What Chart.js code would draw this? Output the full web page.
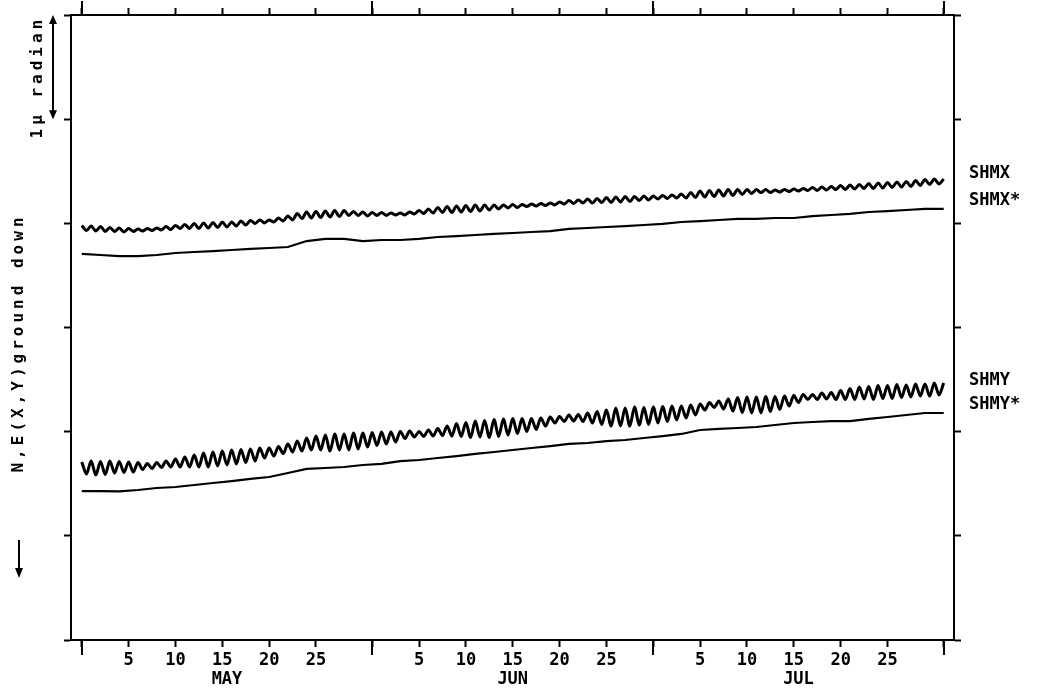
<!DOCTYPE html>
<html>
<head>
<meta charset="utf-8">
<script src="https://cdn.jsdelivr.net/npm/chart.js@4.4.1/dist/chart.umd.min.js"></script>
<style>
  html, body { margin: 0; background: #fff; }
  #wrap { width: 1038px; height: 693px; }
</style>
</head>
<body>
<div id="wrap"><canvas id="chart" width="1038" height="693"></canvas></div>
<script>
// time axis in days counted from the start of May
const MONTHS = ['MAY', 'JUN', 'JUL'];
const MONTH_STARTS = [0, 31, 61, 92];
const DAY_LABELS = [5, 10, 15, 20, 25];

// tilt in microradian, ground down positive (plotted downwards)
// smooth (corrected) curves, one value every 2 days
const SMOOTH_STEP = 2;
const shmxStar = [
  2.294, 2.304, 2.314, 2.314, 2.304, 2.285, 2.275, 2.266, 2.256, 2.246,
  2.237, 2.227, 2.170, 2.150, 2.150, 2.170, 2.160, 2.160, 2.150, 2.131,
  2.122, 2.112, 2.102, 2.093, 2.083, 2.074, 2.054, 2.045, 2.035, 2.026,
  2.016, 2.006, 1.987, 1.978, 1.968, 1.958, 1.958, 1.949, 1.949, 1.930,
  1.920, 1.910, 1.891, 1.882, 1.872, 1.862, 1.862
];
const shmyStar = [
  4.570, 4.570, 4.574, 4.560, 4.541, 4.531, 4.512, 4.493, 4.474, 4.454,
  4.435, 4.397, 4.358, 4.349, 4.339, 4.320, 4.310, 4.282, 4.272, 4.253,
  4.234, 4.214, 4.195, 4.176, 4.157, 4.138, 4.118, 4.109, 4.090, 4.080,
  4.061, 4.042, 4.022, 3.984, 3.974, 3.965, 3.955, 3.936, 3.917, 3.907,
  3.898, 3.898, 3.878, 3.859, 3.840, 3.821, 3.821
];

// raw curves, daily high / low read half a day apart
const RAW_STEP = 0.5;
const shmx = [
  2.021, 2.069, 2.026, 2.074, 2.030, 2.078, 2.040, 2.078, 2.045, 2.083,
  2.050, 2.078, 2.054, 2.074, 2.049, 2.069, 2.044, 2.064, 2.031, 2.059,
  2.021, 2.049, 2.011, 2.049, 2.002, 2.050, 1.997, 2.045, 1.992, 2.040,
  1.987, 2.035, 1.987, 2.025, 1.978, 2.016, 1.973, 2.001, 1.968, 1.996,
  1.968, 1.988, 1.949, 1.977, 1.930, 1.968, 1.906, 1.954, 1.891, 1.949,
  1.886, 1.944, 1.881, 1.939, 1.877, 1.935, 1.877, 1.925, 1.887, 1.925,
  1.891, 1.929, 1.896, 1.924, 1.896, 1.924, 1.900, 1.920, 1.900, 1.920,
  1.891, 1.911, 1.877, 1.905, 1.863, 1.901, 1.848, 1.896, 1.838, 1.896,
  1.833, 1.891, 1.829, 1.887, 1.824, 1.882, 1.824, 1.872, 1.824, 1.862,
  1.824, 1.852, 1.820, 1.848, 1.819, 1.839, 1.814, 1.834, 1.809, 1.829,
  1.804, 1.824, 1.795, 1.815, 1.781, 1.809, 1.776, 1.804, 1.767, 1.805,
  1.762, 1.800, 1.752, 1.800, 1.747, 1.795, 1.742, 1.790, 1.743, 1.781,
  1.738, 1.776, 1.738, 1.766, 1.733, 1.761, 1.728, 1.756, 1.719, 1.757,
  1.704, 1.752, 1.689, 1.747, 1.685, 1.743, 1.680, 1.738, 1.675, 1.733,
  1.675, 1.723, 1.675, 1.713, 1.676, 1.704, 1.676, 1.704, 1.680, 1.700,
  1.675, 1.695, 1.670, 1.690, 1.665, 1.685, 1.656, 1.684, 1.652, 1.680,
  1.647, 1.675, 1.637, 1.675, 1.632, 1.670, 1.627, 1.665, 1.618, 1.666,
  1.613, 1.661, 1.608, 1.656, 1.603, 1.651, 1.598, 1.646, 1.589, 1.637,
  1.579, 1.627, 1.574, 1.622, 1.575
];
const shmy = [
  4.291, 4.406, 4.282, 4.416, 4.286, 4.411, 4.282, 4.397, 4.286, 4.392,
  4.291, 4.387, 4.296, 4.363, 4.306, 4.354, 4.296, 4.344, 4.282, 4.339,
  4.262, 4.339, 4.243, 4.339, 4.224, 4.339, 4.205, 4.339, 4.195, 4.330,
  4.186, 4.320, 4.176, 4.310, 4.171, 4.296, 4.166, 4.282, 4.157, 4.253,
  4.157, 4.234, 4.142, 4.210, 4.118, 4.195, 4.090, 4.186, 4.061, 4.176,
  4.042, 4.176, 4.032, 4.186, 4.022, 4.176, 4.022, 4.176, 4.013, 4.166,
  4.013, 4.147, 4.008, 4.133, 4.003, 4.118, 4.003, 4.099, 3.998, 4.066,
  3.994, 4.051, 3.998, 4.046, 3.984, 4.042, 3.970, 4.037, 3.946, 4.042,
  3.922, 4.046, 3.912, 4.056, 3.898, 4.051, 3.893, 4.056, 3.883, 4.046,
  3.878, 4.032, 3.874, 4.018, 3.874, 3.998, 3.874, 3.979, 3.869, 3.946,
  3.859, 3.917, 3.854, 3.902, 3.840, 3.898, 3.835, 3.902, 3.821, 3.917,
  3.806, 3.931, 3.792, 3.946, 3.773, 3.946, 3.773, 3.946, 3.763, 3.936,
  3.768, 3.931, 3.763, 3.917, 3.758, 3.902, 3.754, 3.888, 3.754, 3.869,
  3.744, 3.840, 3.734, 3.792, 3.720, 3.768, 3.706, 3.782, 3.686, 3.802,
  3.672, 3.816, 3.667, 3.821, 3.667, 3.821, 3.662, 3.806, 3.662, 3.787,
  3.658, 3.754, 3.653, 3.720, 3.643, 3.691, 3.643, 3.691, 3.629, 3.686,
  3.624, 3.691, 3.605, 3.691, 3.586, 3.691, 3.571, 3.686, 3.566, 3.691,
  3.557, 3.682, 3.557, 3.682, 3.547, 3.672, 3.552, 3.667, 3.542, 3.658,
  3.542, 3.658, 3.533, 3.648, 3.533
];

const X_MIN = -1.15, X_MAX = 93.1;
const BLACK = '#000';
const FONT = { family: "'DejaVu Sans Mono', monospace", size: 17, weight: 'bold' };

const toPoints = (vals, step) => vals.map((v, i) => ({ x: i * step, y: v }));

// bottom / top tick positions: month starts plus 5,10,...,25 of each month
const dayTicks = [];
MONTH_STARTS.forEach((s, i) => {
  dayTicks.push(s);
  if (i < MONTHS.length) DAY_LABELS.forEach(d => dayTicks.push(s + d));
});
const monthMids = MONTHS.map((m, i) => (MONTH_STARTS[i] + MONTH_STARTS[i + 1]) / 2);

const dayLabel = (value) => {
  const s = MONTH_STARTS.filter(m => m <= value).pop();
  return value === s ? '' : String(value - s);
};

const frameGrid = { drawOnChartArea: false, drawTicks: true, tickLength: 7, tickWidth: 2, tickColor: BLACK };
const frameBorder = { display: true, color: BLACK, width: 2 };

const series = (label, data, width, tension) => ({
  label: label,
  data: data,
  borderColor: BLACK,
  borderWidth: width,
  pointRadius: 0,
  tension: tension,
  fill: false,
  xAxisID: 'x',
  yAxisID: 'y'
});

//draws month ticks, curve names, scale bar and the left labels
const decorations = {
  id: 'decorations',
  afterDraw(chart) {
    const { ctx, chartArea: a } = chart;
    const x = chart.scales.x, y = chart.scales.y;
    ctx.save();
    ctx.strokeStyle = BLACK;
    ctx.fillStyle = BLACK;
    ctx.lineWidth = 2;

    // longer ticks at the month boundaries
    MONTH_STARTS.forEach(s => {
      const px = Math.round(x.getPixelForValue(s));
      ctx.beginPath();
      ctx.moveTo(px, a.bottom); ctx.lineTo(px, a.bottom + 15);
      ctx.moveTo(px, a.top); ctx.lineTo(px, a.top - 14);
      ctx.stroke();
    });

    // curve names at the right edge
    ctx.font = 'bold 17px "DejaVu Sans Mono"';
    ctx.textBaseline = 'middle';
    ctx.textAlign = 'left';
    chart.data.datasets.forEach(ds => {
      const n = ds.data.length;
      const end = (ds.data[n - 1].y + ds.data[n - 2].y) / 2;
      ctx.fillText(ds.label, a.right + 15, y.getPixelForValue(end) - 8);
    });

    // 1 microradian scale bar
    const y0 = y.getPixelForValue(0), y1 = y.getPixelForValue(1);
    const bx = 53;
    ctx.beginPath();
    ctx.moveTo(bx, y0 + 2); ctx.lineTo(bx, y1 - 2);
    ctx.stroke();
    ctx.beginPath();
    ctx.moveTo(bx, y0); ctx.lineTo(bx - 4, y0 + 9); ctx.lineTo(bx + 4, y0 + 9); ctx.closePath();
    ctx.moveTo(bx, y1); ctx.lineTo(bx - 4, y1 - 9); ctx.lineTo(bx + 4, y1 - 9); ctx.closePath();
    ctx.fill();

    ctx.textAlign = 'center';
    ctx.font = 'bold 16px "DejaVu Sans Mono"';
    ctx.letterSpacing = '4px';
    ctx.save();
    ctx.translate(38, (y0 + y1) / 2 + 10);
    ctx.rotate(-Math.PI / 2);
    ctx.fillText('1µ radian', 0, 0);
    ctx.restore();

    ctx.save();
    ctx.translate(19, 343);
    ctx.rotate(-Math.PI / 2);
    ctx.fillText('N,E(X,Y)ground down', 0, 0);
    ctx.restore();

    // downward arrow
    ctx.beginPath();
    ctx.moveTo(19, 540); ctx.lineTo(19, 570);
    ctx.stroke();
    ctx.beginPath();
    ctx.moveTo(19, 578); ctx.lineTo(15, 568); ctx.lineTo(23, 568); ctx.closePath();
    ctx.fill();
    ctx.restore();
  }
};

new Chart(document.getElementById('chart'), {
  type: 'line',
  data: {
    datasets: [
      series('SHMX', toPoints(shmx, RAW_STEP), 3, 0.3),
      series('SHMX*', toPoints(shmxStar, SMOOTH_STEP), 2.2, 0),
      series('SHMY', toPoints(shmy, RAW_STEP), 3, 0.3),
      series('SHMY*', toPoints(shmyStar, SMOOTH_STEP), 2.2, 0)
    ]
  },
  options: {
    responsive: false,
    animation: false,
    layout: { padding: { left: 61, right: 74, top: 5, bottom: 5 } },
    plugins: { legend: { display: false }, tooltip: { enabled: false } },
    scales: {
      x: {
        type: 'linear', position: 'bottom', min: X_MIN, max: X_MAX, weight: 0,
        afterBuildTicks: s => { s.ticks = dayTicks.map(v => ({ value: v })); },
        ticks: { autoSkip: false, maxRotation: 0, minRotation: 0, color: BLACK, font: FONT, padding: 3, callback: dayLabel },
        grid: frameGrid,
        border: frameBorder,
        afterFit: s => { s.height = 28; }
      },
      xm: {
        type: 'linear', position: 'bottom', min: X_MIN, max: X_MAX, weight: 1,
        afterBuildTicks: s => { s.ticks = monthMids.map(v => ({ value: v })); },
        ticks: { autoSkip: false, maxRotation: 0, minRotation: 0, color: BLACK, font: FONT, padding: 1, callback: (v, i) => MONTHS[i] },
        grid: { display: false, drawTicks: false },
        border: { display: false },
        afterFit: s => { s.height = 20; }
      },
      xt: {
        type: 'linear', position: 'top', min: X_MIN, max: X_MAX,
        afterBuildTicks: s => { s.ticks = dayTicks.map(v => ({ value: v })); },
        ticks: { display: false },
        grid: frameGrid,
        border: frameBorder,
        afterFit: s => { s.height = 10; }
      },
      y: {
        type: 'linear', position: 'left', reverse: true, min: 0, max: 6,
        ticks: { display: false, stepSize: 1 },
        grid: frameGrid,
        border: frameBorder,
        afterFit: s => { s.width = 10; }
      },
      yr: {
        type: 'linear', position: 'right', reverse: true, min: 0, max: 6,
        ticks: { display: false, stepSize: 1 },
        grid: frameGrid,
        border: frameBorder,
        afterFit: s => { s.width = 10; }
      }
    }
  },
  plugins: [decorations]
});
</script>
</body>
</html>
